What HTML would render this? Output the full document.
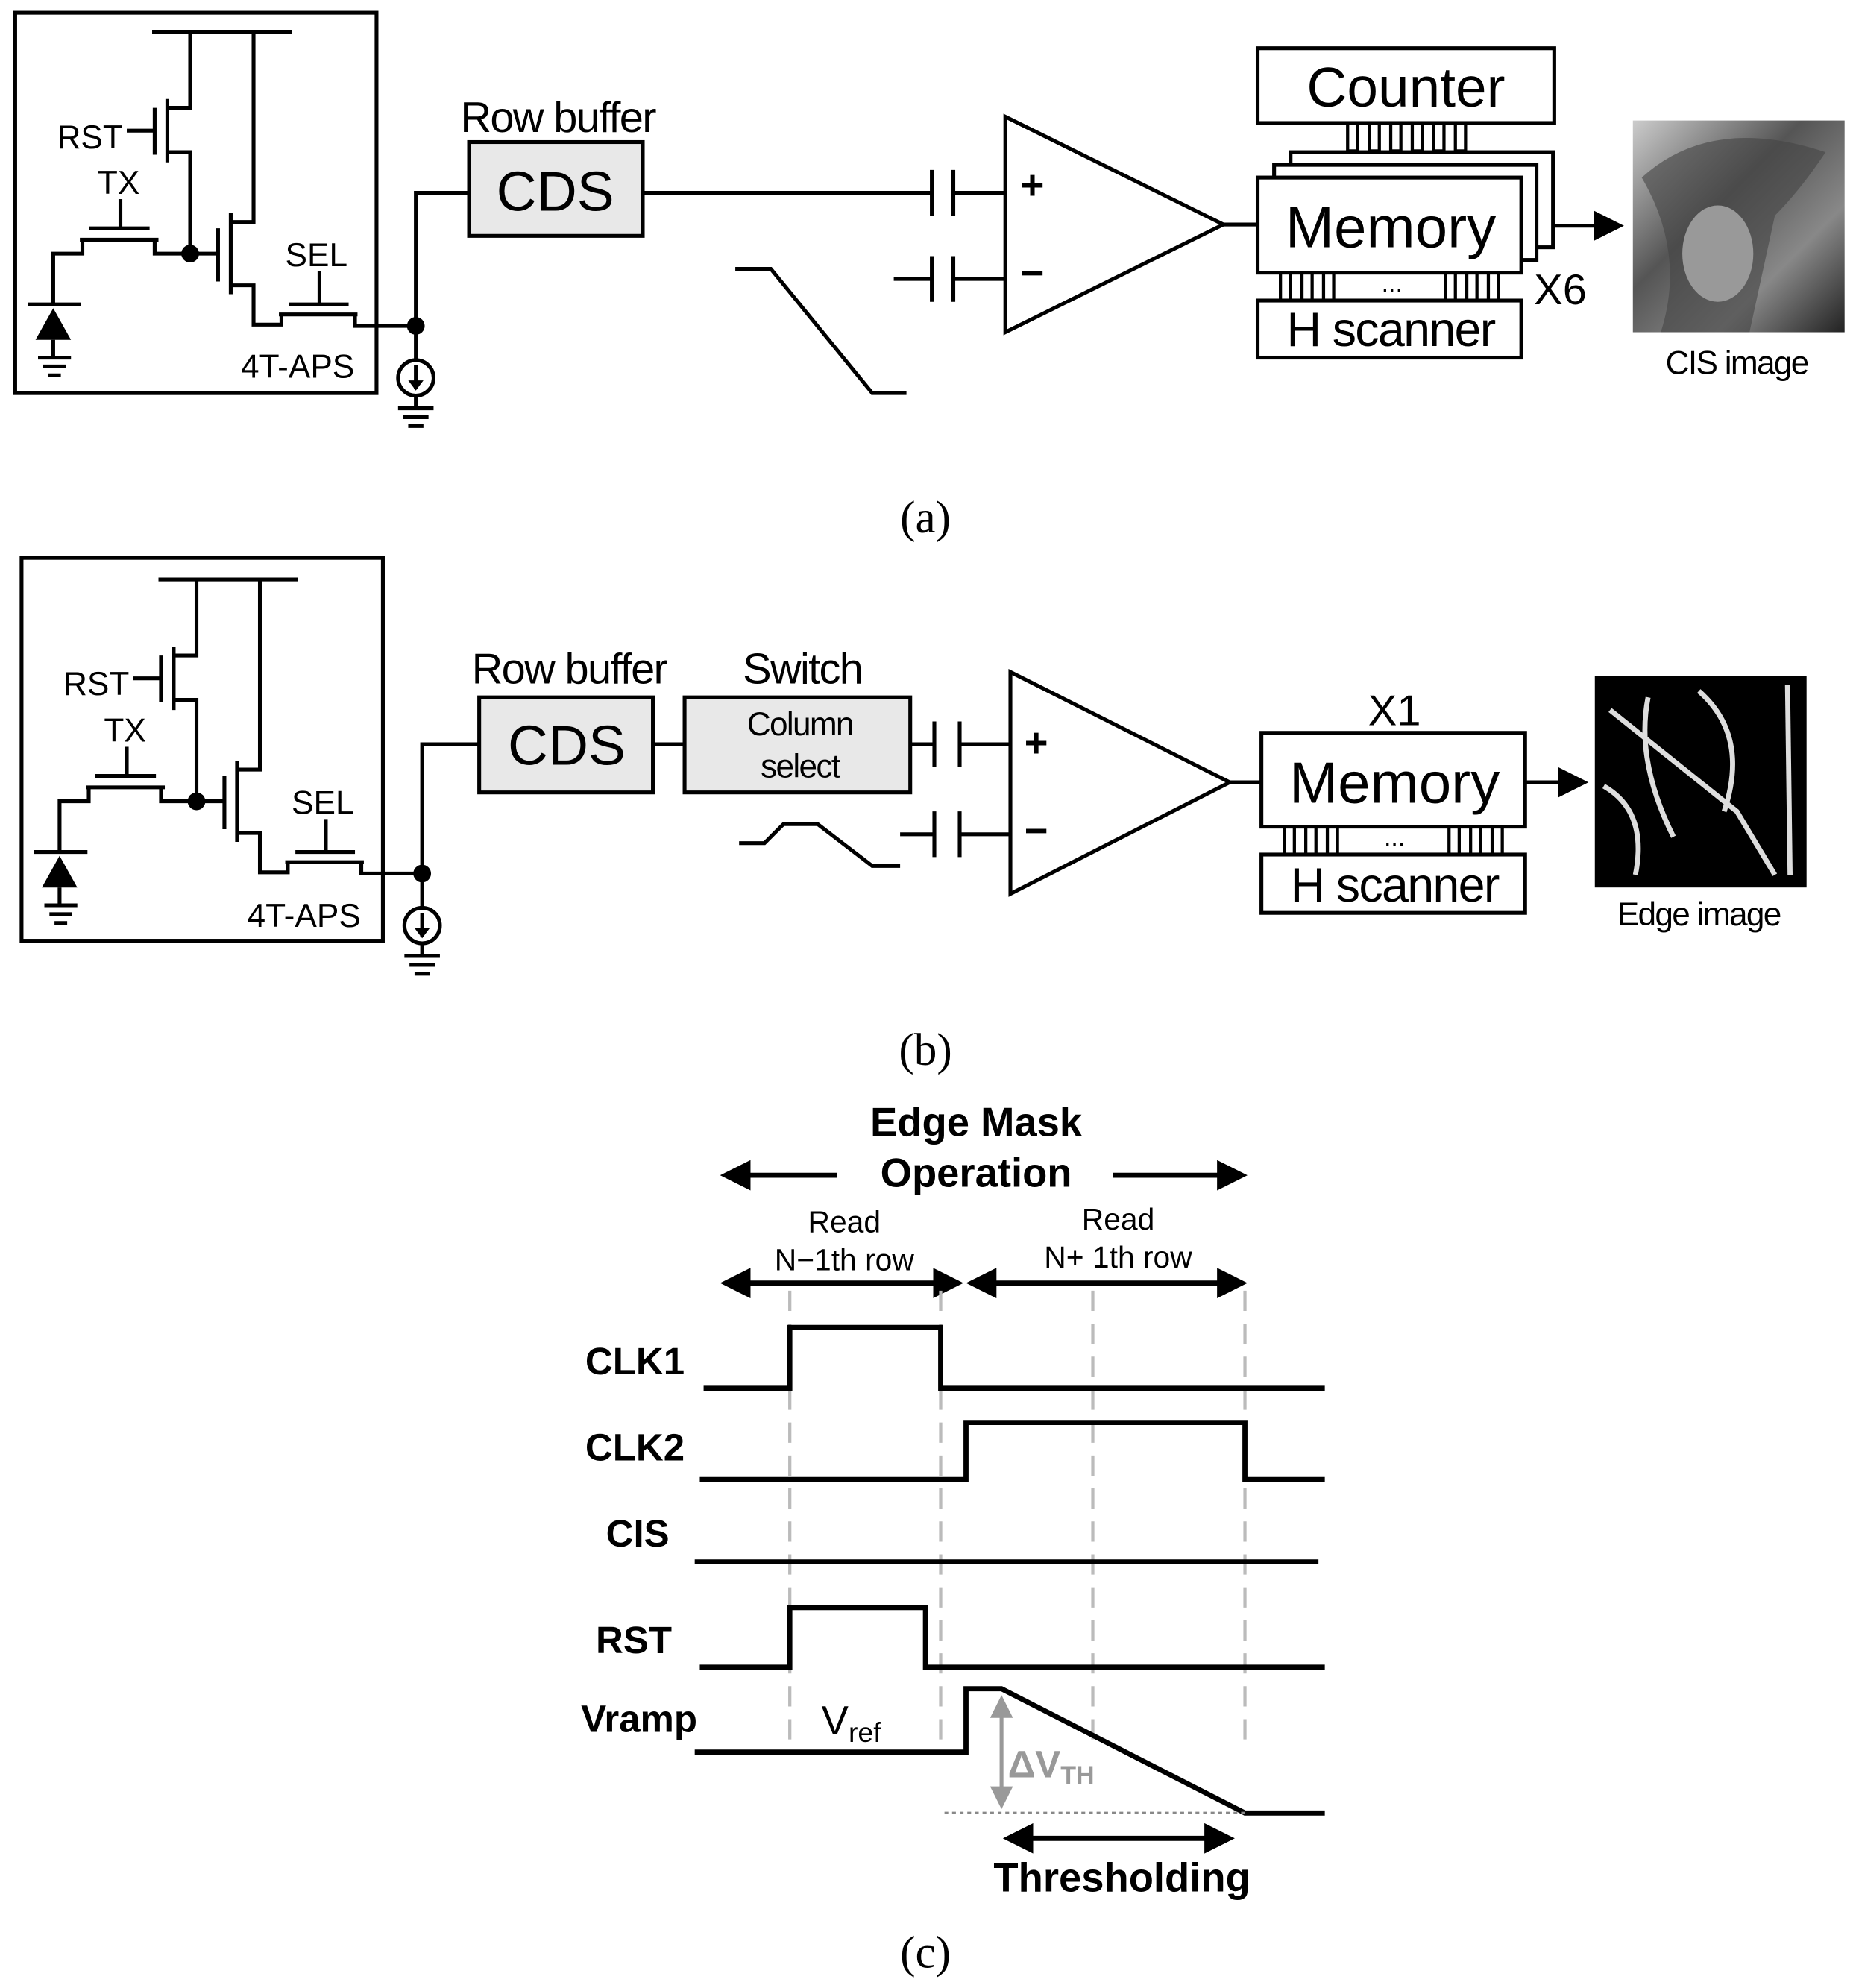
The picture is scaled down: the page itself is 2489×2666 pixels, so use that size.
<!DOCTYPE html>
<html><head><meta charset="utf-8"><style>
html,body{margin:0;padding:0;background:#fff}
svg{display:block}
text{font-family:"Liberation Sans",Arial,sans-serif}
</style></head><body>
<svg width="2489" height="2666" viewBox="0 0 1464 1568" xmlns="http://www.w3.org/2000/svg">
<defs>
<marker id="ah" markerWidth="8" markerHeight="8" refX="7" refY="4" orient="auto" markerUnits="strokeWidth"><path d="M0,0 L8,4 L0,8 z" fill="#000"/></marker>
<marker id="ahs" markerWidth="6" markerHeight="6" refX="5" refY="3" orient="auto-start-reverse" markerUnits="strokeWidth"><path d="M0,0 L6,3 L0,6 z" fill="#000"/></marker>
<marker id="ahg" markerWidth="6" markerHeight="6" refX="5" refY="3" orient="auto-start-reverse" markerUnits="strokeWidth"><path d="M0,0 L6,3 L0,6 z" fill="#999"/></marker>
<linearGradient id="lena" x1="0" y1="0" x2="1" y2="1"><stop offset="0" stop-color="#ccc"/><stop offset="0.4" stop-color="#555"/><stop offset="0.7" stop-color="#888"/><stop offset="1" stop-color="#222"/></linearGradient>
<g id="pix" fill="none" stroke="#000" stroke-width="3">
<line x1="120" y1="25" x2="230" y2="25"/>
<polyline points="150,25 150,85 132,85"/>
<line x1="132" y1="78" x2="132" y2="128"/>
<line x1="122" y1="85" x2="122" y2="122"/>
<line x1="100" y1="103" x2="122" y2="103"/>
<polyline points="132,120 150,120 150,200"/>
<line x1="70" y1="180" x2="118" y2="180"/>
<line x1="95" y1="157" x2="95" y2="180"/>
<line x1="63" y1="189" x2="125" y2="189"/>
<polyline points="65,189 65,200 42,200 42,240"/>
<polyline points="122,189 122,200 150,200 172,200"/>
<line x1="172" y1="180" x2="172" y2="222"/>
<line x1="182" y1="168" x2="182" y2="232"/>
<polyline points="182,175 200,175 200,25"/>
<polyline points="182,225 200,225 200,256 222,256 222,248"/>
<line x1="228" y1="240" x2="275" y2="240"/>
<line x1="252" y1="214" x2="252" y2="240"/>
<line x1="220" y1="248" x2="282" y2="248"/>
<polyline points="280,248 280,257 328,257"/>
<line x1="22" y1="240" x2="64" y2="240"/>
<line x1="42" y1="268" x2="42" y2="282"/>
<line x1="30" y1="282" x2="56" y2="282"/>
<line x1="34" y1="289" x2="52" y2="289"/>
<line x1="38" y1="296" x2="48" y2="296"/>
</g>
</defs>

<!-- (a) -->
<rect x="12" y="10" width="285" height="300" fill="none" stroke="#000" stroke-width="3"/>
<use href="#pix"/>
<path d="M42,243 L28,268 L56,268 z" fill="#000"/>
<text x="45" y="117" font-size="26">RST</text>
<text x="77" y="153" font-size="26">TX</text>
<text x="225" y="210" font-size="26">SEL</text>
<text x="190" y="298" font-size="26">4T-APS</text>
<circle cx="150" cy="200" r="7"/>
<circle cx="328" cy="257" r="7"/>
<g fill="none" stroke="#000" stroke-width="3">
<polyline points="328,257 328,152 370,152"/>
<line x1="328" y1="257" x2="328" y2="284"/>
<circle cx="328" cy="298" r="14"/>
<line x1="328" y1="288" x2="328" y2="307"/>
<line x1="328" y1="312" x2="328" y2="322"/>
<line x1="314" y1="322" x2="342" y2="322"/><line x1="318" y1="329" x2="338" y2="329"/><line x1="322" y1="336" x2="334" y2="336"/>
</g>
<path d="M322,300 L334,300 L328,308 z" fill="#000"/>
<text x="440" y="104" font-size="34" text-anchor="middle" letter-spacing="-1">Row buffer</text>
<rect x="370" y="112" width="137" height="74" fill="#e8e8e8" stroke="#000" stroke-width="3"/>
<text x="438" y="166" font-size="44" text-anchor="middle">CDS</text>
<g fill="none" stroke="#000" stroke-width="3">
<line x1="507" y1="152" x2="735" y2="152"/>
<line x1="735" y1="134" x2="735" y2="170"/><line x1="752" y1="134" x2="752" y2="170"/>
<line x1="752" y1="152" x2="793" y2="152"/>
<line x1="705" y1="220" x2="735" y2="220"/>
<line x1="735" y1="202" x2="735" y2="238"/><line x1="752" y1="202" x2="752" y2="238"/>
<line x1="752" y1="220" x2="793" y2="220"/>
<polyline points="580,212 608,212 688,310 715,310"/>
<polygon points="793,92 793,262 965,177"/>
<line x1="965" y1="177" x2="992" y2="177"/>
<rect x="992" y="38" width="234" height="59"/>
<rect x="1018" y="120" width="207" height="75" fill="#fff"/>
<rect x="1005" y="130" width="207" height="75" fill="#fff"/>
<rect x="992" y="140" width="208" height="75" fill="#fff"/>
<rect x="992" y="237" width="208" height="45"/>
<line x1="1225" y1="178" x2="1278" y2="178" marker-end="url(#ah)"/>
</g>
<g fill="none" stroke="#000" stroke-width="2.5">
<rect x="1063" y="97" width="8" height="22"/><rect x="1080" y="97" width="8" height="22"/><rect x="1097" y="97" width="8" height="22"/><rect x="1114" y="97" width="8" height="22"/><rect x="1131" y="97" width="8" height="22"/><rect x="1148" y="97" width="8" height="22"/>
<rect x="1010" y="215" width="8" height="22"/><rect x="1027" y="215" width="8" height="22"/><rect x="1044" y="215" width="8" height="22"/>
<rect x="1140" y="215" width="8" height="22"/><rect x="1157" y="215" width="8" height="22"/><rect x="1174" y="215" width="8" height="22"/>
</g>
<text x="1098" y="230" font-size="20" text-anchor="middle">...</text>
<text x="805" y="157" font-size="32" font-weight="bold">+</text>
<text x="805" y="226" font-size="32" font-weight="bold">−</text>
<text x="1109" y="84" font-size="44" text-anchor="middle">Counter</text>
<text x="1097" y="195" font-size="46" text-anchor="middle">Memory</text>
<text x="1097" y="273" font-size="38" text-anchor="middle" letter-spacing="-1">H scanner</text>
<text x="1210" y="240" font-size="34">X6</text>
<rect x="1288" y="95" width="167" height="167" fill="url(#lena)"/>
<path d="M1295,140 Q1350,90 1440,120 Q1420,150 1400,170 L1380,262 L1310,262 Q1330,200 1295,140z" fill="#444" opacity="0.6"/>
<ellipse cx="1355" cy="200" rx="28" ry="38" fill="#999"/>
<text x="1370" y="295" font-size="26" text-anchor="middle" letter-spacing="-1">CIS image</text>
<text x="730" y="420" font-size="36" text-anchor="middle" style="font-family:'Liberation Serif',serif">(a)</text>

<!-- (b) -->
<rect x="17" y="440" width="285" height="302" fill="none" stroke="#000" stroke-width="3"/>
<use href="#pix" transform="translate(5,432)"/>
<path d="M47,675 L33,700 L61,700 z" fill="#000"/>
<text x="50" y="548" font-size="26">RST</text>
<text x="82" y="585" font-size="26">TX</text>
<text x="230" y="642" font-size="26">SEL</text>
<text x="195" y="731" font-size="26">4T-APS</text>
<circle cx="155" cy="632" r="7"/>
<circle cx="333" cy="689" r="7"/>
<g fill="none" stroke="#000" stroke-width="3">
<polyline points="333,689 333,587 378,587"/>
<line x1="333" y1="689" x2="333" y2="716"/>
<circle cx="333" cy="730" r="14"/>
<line x1="333" y1="720" x2="333" y2="739"/>
<line x1="333" y1="744" x2="333" y2="754"/>
<line x1="319" y1="754" x2="347" y2="754"/><line x1="323" y1="761" x2="343" y2="761"/><line x1="327" y1="768" x2="339" y2="768"/>
</g>
<path d="M327,732 L339,732 L333,740 z" fill="#000"/>
<text x="449" y="539" font-size="34" text-anchor="middle" letter-spacing="-1">Row buffer</text>
<text x="633" y="539" font-size="34" text-anchor="middle" letter-spacing="-1">Switch</text>
<rect x="378" y="550" width="137" height="75" fill="#e8e8e8" stroke="#000" stroke-width="3"/>
<text x="447" y="603" font-size="44" text-anchor="middle">CDS</text>
<rect x="540" y="550" width="178" height="75" fill="#e8e8e8" stroke="#000" stroke-width="3"/>
<text x="631" y="580" font-size="26" text-anchor="middle" letter-spacing="-1">Column</text>
<text x="631" y="613" font-size="26" text-anchor="middle" letter-spacing="-1">select</text>
<g fill="none" stroke="#000" stroke-width="3">
<line x1="515" y1="587" x2="540" y2="587"/>
<line x1="718" y1="587" x2="737" y2="587"/>
<line x1="737" y1="569" x2="737" y2="605"/><line x1="757" y1="569" x2="757" y2="605"/>
<line x1="757" y1="587" x2="797" y2="587"/>
<line x1="710" y1="658" x2="737" y2="658"/>
<line x1="737" y1="640" x2="737" y2="676"/><line x1="757" y1="640" x2="757" y2="676"/>
<line x1="757" y1="658" x2="797" y2="658"/>
<polyline points="583,665 603,665 618,650 645,650 688,683 710,683"/>
<polygon points="797,530 797,705 970,617"/>
<line x1="970" y1="617" x2="995" y2="617"/>
<rect x="995" y="578" width="208" height="74"/>
<rect x="995" y="674" width="208" height="46"/>
<line x1="1203" y1="617" x2="1250" y2="617" marker-end="url(#ah)"/>
</g>
<g fill="none" stroke="#000" stroke-width="2.5">
<rect x="1013" y="652" width="8" height="22"/><rect x="1030" y="652" width="8" height="22"/><rect x="1047" y="652" width="8" height="22"/>
<rect x="1143" y="652" width="8" height="22"/><rect x="1160" y="652" width="8" height="22"/><rect x="1177" y="652" width="8" height="22"/>
</g>
<text x="1100" y="667" font-size="20" text-anchor="middle">...</text>
<text x="808" y="597" font-size="32" font-weight="bold">+</text>
<text x="808" y="666" font-size="32" font-weight="bold">−</text>
<text x="1100" y="572" font-size="34" text-anchor="middle">X1</text>
<text x="1100" y="633" font-size="46" text-anchor="middle">Memory</text>
<text x="1100" y="711" font-size="38" text-anchor="middle" letter-spacing="-1">H scanner</text>
<rect x="1258" y="533" width="167" height="167" fill="#000"/>
<g fill="none" stroke="#ddd" stroke-width="4">
<path d="M1270,560 Q1320,600 1370,640 L1400,690"/>
<path d="M1300,550 Q1290,600 1320,660"/>
<path d="M1340,545 Q1380,580 1360,640"/>
<path d="M1410,540 L1412,690"/>
<path d="M1265,620 Q1300,640 1290,690"/>
</g>
<text x="1340" y="730" font-size="26" text-anchor="middle" letter-spacing="-1">Edge image</text>
<text x="730" y="840" font-size="36" text-anchor="middle" style="font-family:'Liberation Serif',serif">(b)</text>

<!-- (c) -->
<text x="770" y="896" font-size="32" font-weight="bold" text-anchor="middle">Edge Mask</text>
<text x="770" y="936" font-size="32" font-weight="bold" text-anchor="middle">Operation</text>
<g fill="none" stroke="#000" stroke-width="4">
<line x1="660" y1="927" x2="572" y2="927" marker-end="url(#ahs)"/>
<line x1="878" y1="927" x2="980" y2="927" marker-end="url(#ahs)"/>
<line x1="572" y1="1012" x2="756" y2="1012" marker-start="url(#ahs)" marker-end="url(#ahs)"/>
<line x1="766" y1="1012" x2="980" y2="1012" marker-start="url(#ahs)" marker-end="url(#ahs)"/>
<line x1="795" y1="1450" x2="970" y2="1450" marker-start="url(#ahs)" marker-end="url(#ahs)"/>
</g>
<text x="666" y="972" font-size="24" text-anchor="middle">Read</text>
<text x="666" y="1002" font-size="24" text-anchor="middle">N−1th row</text>
<text x="882" y="970" font-size="24" text-anchor="middle">Read</text>
<text x="882" y="1000" font-size="24" text-anchor="middle">N+ 1th row</text>
<g stroke="#bbb" stroke-width="2.5" stroke-dasharray="16,10">
<line x1="623" y1="1018" x2="623" y2="1380"/>
<line x1="742" y1="1018" x2="742" y2="1380"/>
<line x1="862" y1="1018" x2="862" y2="1380"/>
<line x1="982" y1="1018" x2="982" y2="1380"/>
</g>
<g fill="none" stroke="#000" stroke-width="4">
<polyline points="555,1095 623,1095 623,1047 742,1047 742,1095 1045,1095"/>
<polyline points="552,1167 762,1167 762,1122 982,1122 982,1167 1045,1167"/>
<line x1="548" y1="1232" x2="1040" y2="1232"/>
<polyline points="552,1315 623,1315 623,1268 730,1268 730,1315 1045,1315"/>
<polyline points="548,1382 762,1382 762,1332 790,1332 982,1430 1045,1430"/>
</g>
<line x1="745" y1="1430" x2="982" y2="1430" stroke="#888" stroke-width="2" stroke-dasharray="3,3"/>
<line x1="790" y1="1340" x2="790" y2="1424" stroke="#999" stroke-width="3" marker-start="url(#ahg)" marker-end="url(#ahg)"/>
<text x="795" y="1402" font-size="30" font-weight="bold" fill="#999">ΔV<tspan font-size="20" dy="5">TH</tspan></text>
<g font-size="30" font-weight="bold" text-anchor="end">
<text x="540" y="1084">CLK1</text>
<text x="540" y="1152">CLK2</text>
<text x="528" y="1220">CIS</text>
<text x="530" y="1304">RST</text>
<text x="550" y="1366">Vramp</text>
</g>
<text x="648" y="1368" font-size="32">V<tspan font-size="22" dy="6">ref</tspan></text>
<text x="885" y="1492" font-size="32" font-weight="bold" text-anchor="middle">Thresholding</text>
<text x="730" y="1552" font-size="36" text-anchor="middle" style="font-family:'Liberation Serif',serif">(c)</text>
</svg>
</body></html>
